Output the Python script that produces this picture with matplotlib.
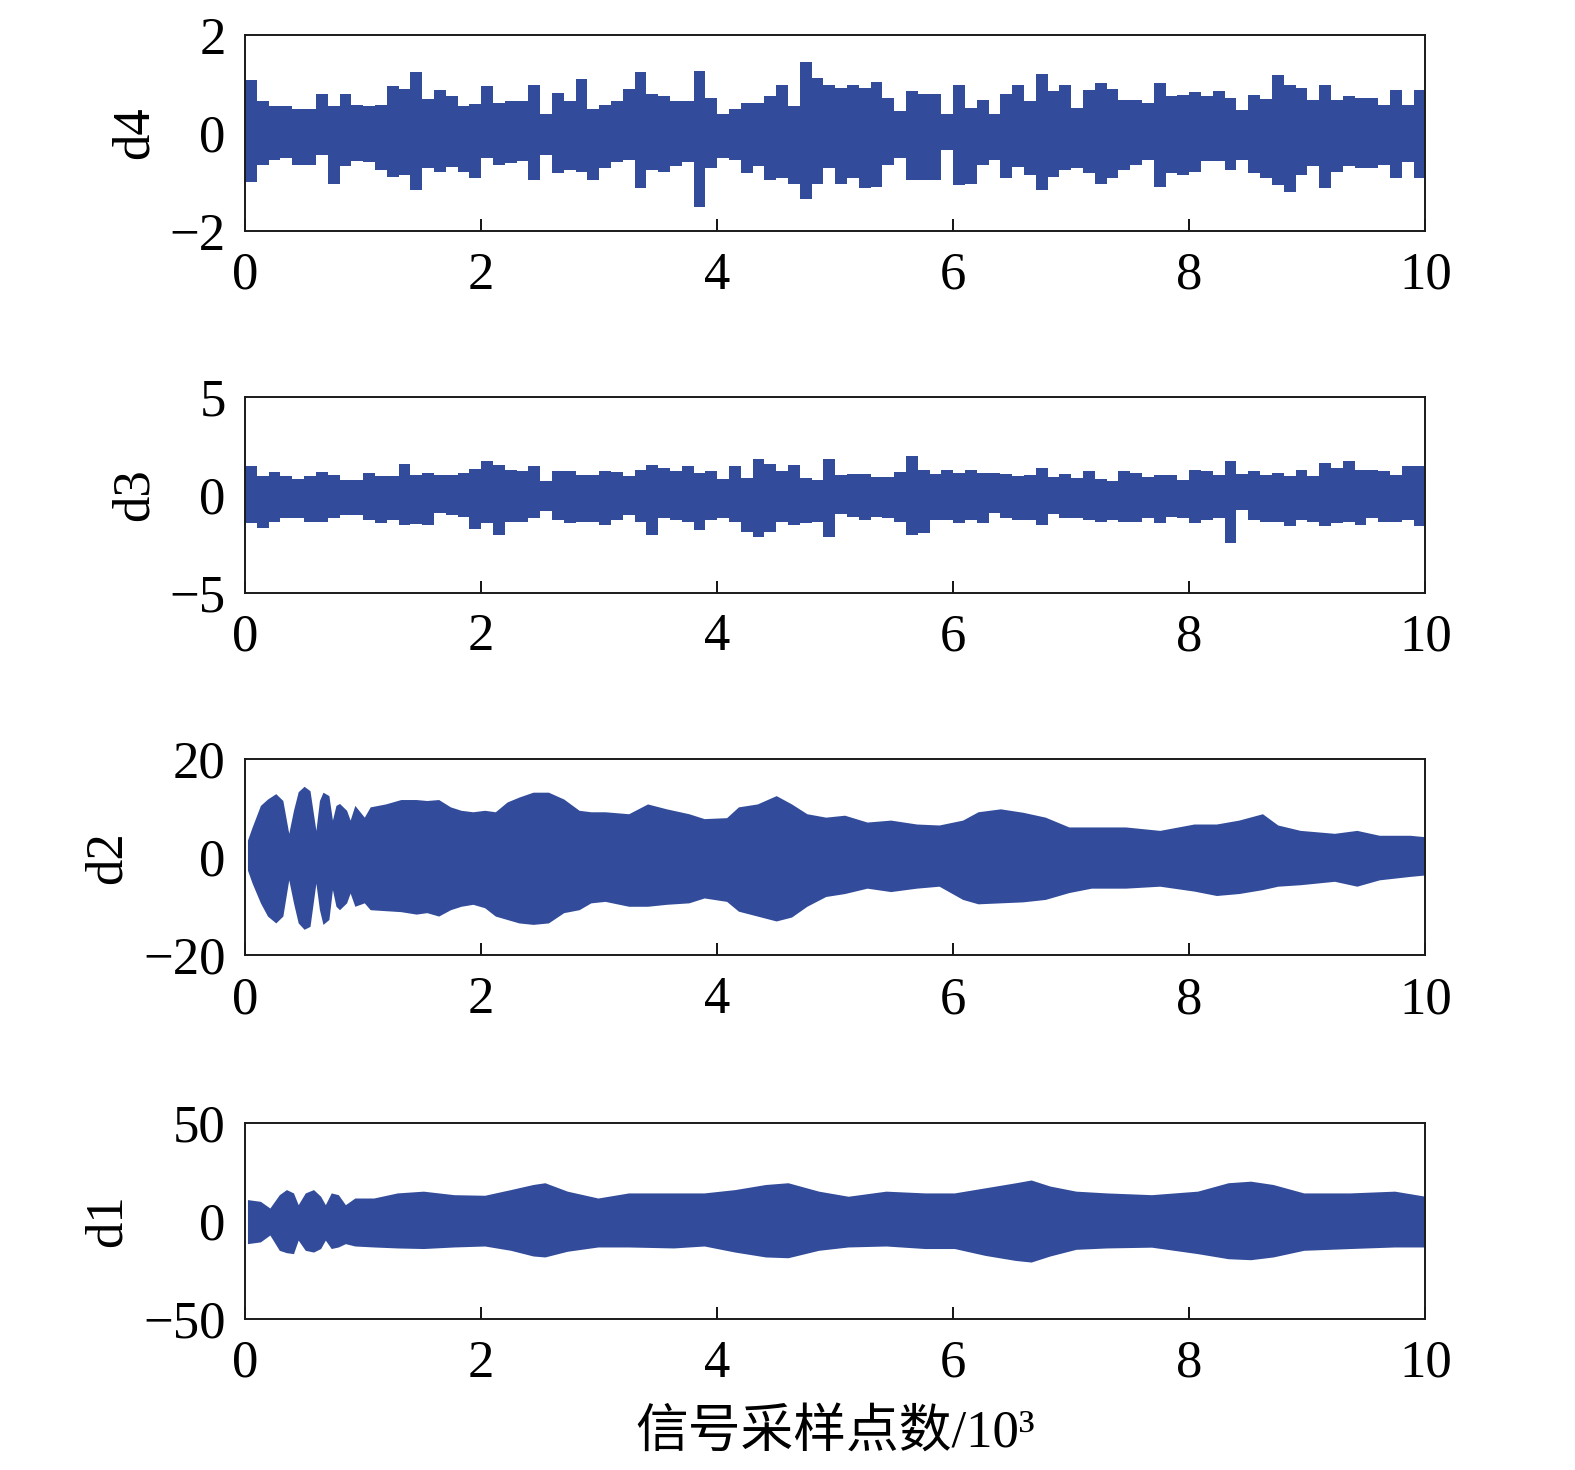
import numpy as np
import matplotlib
matplotlib.use("Agg")
import matplotlib.pyplot as plt

plt.rcParams['font.family'] = ['Liberation Serif', 'Noto Sans CJK SC']
plt.rcParams['axes.unicode_minus'] = True

# envelope of d4 / d3, one value per 0.1 (x10^3 samples) bin
d4_upper = [1.08, 0.66, 0.55, 0.55, 0.50, 0.50, 0.79, 0.55, 0.79, 0.58,
            0.55, 0.58, 0.96, 0.90, 1.25, 0.70, 0.87, 0.75, 0.55, 0.60,
            0.96, 0.62, 0.65, 0.66, 0.99, 0.38, 0.82, 0.65, 1.10, 0.50,
            0.58, 0.65, 0.90, 1.25, 0.79, 0.75, 0.65, 0.66, 1.27, 0.72,
            0.38, 0.50, 0.62, 0.62, 0.75, 0.99, 0.55, 1.46, 1.12, 0.99,
            0.92, 0.99, 0.92, 1.05, 0.72, 0.45, 0.86, 0.79, 0.79, 0.40,
            0.99, 0.51, 0.68, 0.40, 0.79, 0.98, 0.65, 1.20, 0.86, 0.99,
            0.51, 0.87, 1.02, 0.91, 0.68, 0.68, 0.62, 1.03, 0.75, 0.77,
            0.84, 0.75, 0.86, 0.72, 0.48, 0.77, 0.70, 1.18, 0.99, 0.92,
            0.68, 0.99, 0.68, 0.75, 0.72, 0.72, 0.58, 0.87, 0.58, 0.87]
d4_lower = [-0.99, -0.65, -0.55, -0.50, -0.65, -0.65, -0.45, -1.03, -0.68, -0.58,
            -0.60, -0.75, -0.89, -0.86, -1.16, -0.72, -0.79, -0.70, -0.79, -0.92,
            -0.50, -0.65, -0.62, -0.58, -0.96, -0.45, -0.82, -0.75, -0.80, -0.96,
            -0.72, -0.60, -0.55, -1.13, -0.75, -0.79, -0.68, -0.60, -1.51, -0.72,
            -0.50, -0.55, -0.82, -0.68, -0.96, -0.92, -1.03, -1.34, -1.03, -0.72,
            -1.03, -0.91, -1.13, -1.10, -0.65, -0.50, -0.96, -0.96, -0.96, -0.35,
            -1.06, -1.03, -0.65, -0.55, -0.91, -0.70, -0.86, -1.16, -0.89, -0.75,
            -0.72, -0.82, -1.03, -0.92, -0.75, -0.65, -0.55, -1.10, -0.82, -0.86,
            -0.79, -0.58, -0.58, -0.75, -0.55, -0.82, -0.92, -1.06, -1.20, -0.86,
            -0.68, -1.13, -0.79, -0.68, -0.72, -0.72, -0.65, -0.92, -0.60, -0.92]

d3_upper = [1.45, 0.95, 1.16, 0.94, 0.82, 0.94, 1.16, 1.03, 0.77, 0.77,
            1.11, 0.94, 0.94, 1.57, 1.03, 1.11, 1.03, 1.03, 1.11, 1.33,
            1.71, 1.54, 1.28, 1.20, 1.45, 0.68, 1.20, 1.20, 1.03, 1.03,
            1.20, 1.16, 0.94, 1.28, 1.54, 1.37, 1.20, 1.45, 1.11, 1.20,
            0.80, 1.45, 0.85, 1.80, 1.57, 1.20, 1.50, 0.85, 0.77, 1.80,
            1.03, 1.06, 1.06, 0.89, 0.89, 1.16, 1.97, 1.28, 1.06, 1.28,
            1.11, 1.28, 1.11, 1.11, 1.06, 0.94, 1.03, 1.37, 0.90, 1.06,
            0.85, 1.20, 0.82, 0.68, 1.20, 1.11, 0.89, 1.03, 1.03, 0.77,
            1.28, 1.20, 1.03, 1.74, 1.06, 1.20, 1.03, 1.11, 0.94, 1.28,
            0.94, 1.62, 1.37, 1.74, 1.28, 1.28, 1.20, 1.03, 1.45, 1.45]
d3_lower = [-1.45, -1.68, -1.37, -1.20, -1.20, -1.37, -1.37, -1.20, -1.03, -1.03,
            -1.28, -1.45, -1.28, -1.54, -1.50, -1.54, -0.94, -1.03, -1.12, -1.74,
            -1.45, -2.05, -1.37, -1.37, -1.20, -0.85, -1.28, -1.45, -1.37, -1.37,
            -1.54, -1.28, -1.03, -1.37, -2.05, -1.20, -1.28, -1.37, -1.80, -1.28,
            -1.20, -1.37, -1.88, -2.14, -1.88, -1.37, -1.54, -1.45, -1.37, -2.14,
            -1.00, -1.12, -1.28, -1.12, -1.20, -1.37, -2.05, -1.97, -1.28, -1.28,
            -1.45, -1.28, -1.45, -0.94, -1.20, -1.28, -1.28, -1.54, -1.00, -1.20,
            -1.20, -1.28, -1.37, -1.28, -1.37, -1.37, -1.20, -1.45, -1.12, -1.20,
            -1.45, -1.28, -1.20, -2.48, -0.80, -1.28, -1.37, -1.37, -1.62, -1.28,
            -1.37, -1.62, -1.45, -1.37, -1.54, -1.20, -1.37, -1.37, -1.30, -1.62]

# envelope of d2 / d1 at read-off positions
d2_x = [0.02, 0.06, 0.13, 0.19, 0.26, 0.32, 0.37, 0.41, 0.45, 0.50, 0.55, 0.60,
        0.63, 0.66, 0.71, 0.74, 0.77, 0.80, 0.86, 0.89, 0.93, 1.01, 1.06, 1.19,
        1.32, 1.45, 1.54, 1.64, 1.74, 1.83, 1.93, 2.03, 2.12, 2.22, 2.32, 2.44,
        2.57, 2.70, 2.83, 2.93, 3.05, 3.25, 3.41, 3.57, 3.76, 3.89, 4.08, 4.18,
        4.34, 4.50, 4.63, 4.76, 4.92, 5.08, 5.27, 5.47, 5.69, 5.88, 6.08, 6.21,
        6.40, 6.59, 6.78, 6.98, 7.17, 7.46, 7.75, 8.04, 8.23, 8.42, 8.62, 8.75,
        8.94, 9.23, 9.42, 9.61, 9.87, 10.0]
d2_upper = [3.5, 6.2, 10.6, 11.9, 13.0, 11.6, 4.9, 9.6, 13.4, 14.5, 13.6, 5.5,
            11.6, 13.3, 12.6, 7.6, 10.6, 11.0, 9.6, 7.6, 10.6, 8.2, 10.3, 10.9,
            11.8, 11.8, 11.6, 11.8, 10.3, 9.6, 9.3, 9.6, 9.3, 11.3, 12.3, 13.3,
            13.3, 11.9, 9.6, 9.3, 9.3, 8.9, 10.9, 9.9, 8.9, 7.9, 8.1, 10.3,
            10.9, 12.6, 10.9, 8.9, 8.2, 8.6, 7.2, 7.6, 6.8, 6.6, 7.6, 9.3,
            9.9, 9.2, 8.2, 6.2, 6.2, 6.2, 5.5, 6.8, 6.8, 7.6, 8.9, 6.6,
            5.5, 4.9, 5.5, 4.5, 4.5, 4.2]
d2_lower = [-2.6, -5.3, -9.3, -12.0, -13.4, -12.0, -4.6, -9.3, -13.4, -14.7, -14.1, -5.3,
            -10.7, -13.7, -12.7, -6.6, -10.0, -10.7, -9.3, -7.3, -10.0, -9.3, -10.7, -10.9,
            -11.1, -11.6, -11.3, -12.0, -10.7, -10.0, -9.6, -10.3, -12.0, -12.7, -13.4, -13.7,
            -13.4, -11.3, -10.7, -9.3, -9.0, -10.0, -10.0, -9.6, -9.3, -8.3, -9.0, -11.0,
            -12.0, -13.0, -12.2, -10.0, -8.0, -7.4, -6.3, -7.0, -6.3, -5.9, -8.6, -9.5,
            -9.3, -9.1, -8.6, -7.2, -6.3, -6.3, -5.9, -6.9, -7.8, -7.4, -6.6, -5.9,
            -5.6, -4.9, -5.9, -4.6, -3.9, -3.6]

d1_x = [0.02, 0.13, 0.21, 0.29, 0.35, 0.41, 0.45, 0.51, 0.58, 0.64, 0.68, 0.73,
        0.79, 0.85, 0.93, 1.09, 1.29, 1.51, 1.77, 2.03, 2.25, 2.44, 2.54, 2.73,
        2.99, 3.25, 3.63, 3.89, 4.15, 4.41, 4.60, 4.86, 5.11, 5.43, 5.76, 6.01,
        6.27, 6.53, 6.66, 6.82, 7.04, 7.30, 7.68, 8.07, 8.33, 8.52, 8.71, 8.97,
        9.36, 9.74, 10.0]
d1_upper = [10.9, 10.0, 6.6, 13.4, 16.0, 14.3, 8.3, 14.3, 16.0, 12.6, 8.3, 14.3,
            13.4, 8.3, 11.7, 11.7, 14.3, 15.2, 13.4, 13.1, 16.0, 18.6, 19.5, 15.2,
            11.7, 14.3, 14.3, 14.3, 16.0, 18.6, 19.5, 15.2, 12.6, 15.2, 14.3, 14.3,
            16.9, 19.5, 20.9, 17.8, 15.2, 14.3, 13.4, 15.2, 19.5, 20.3, 18.6, 14.3,
            14.3, 15.2, 12.6]
d1_lower = [-11.6, -10.7, -7.2, -15.0, -16.2, -16.7, -9.8, -15.0, -15.9, -14.1, -9.8, -14.1,
            -13.3, -11.6, -12.8, -13.3, -13.8, -14.1, -13.3, -12.8, -15.0, -17.9, -18.4, -15.5,
            -13.3, -13.3, -13.8, -12.8, -15.9, -18.4, -18.8, -15.0, -13.3, -12.8, -14.1, -14.1,
            -17.6, -20.2, -21.0, -17.9, -14.5, -13.8, -13.4, -16.7, -19.3, -19.8, -18.4, -15.0,
            -14.1, -13.3, -13.3]

labels = ['d4', 'd3', 'd2', 'd1']
ylims = [2, 5, 20, 50]
xticks = [0, 2, 4, 6, 8, 10]
color = '#324C9B'

fig = plt.figure(figsize=(15.75, 14.7), dpi=100)
k = 1575 / 1568
left, width, height = 244 * k / 1575, 1175 * k / 1575, 195 * k / 1470
bottoms = [1 - b * k / 1470 for b in (230, 590, 951, 1313)]
axes = [fig.add_axes([left, b, width, height]) for b in bottoms]

edges = np.linspace(0, 10, len(d4_upper) + 1)
axes[0].stairs(d4_upper, edges, baseline=d4_lower, fill=True, color=color, linewidth=0)
axes[1].stairs(d3_upper, edges, baseline=d3_lower, fill=True, color=color, linewidth=0)
axes[2].fill_between(d2_x, d2_lower, d2_upper, color=color, linewidth=0)
axes[3].fill_between(d1_x, d1_lower, d1_upper, color=color, linewidth=0)

for ax, lab, lim in zip(axes, labels, ylims):
    ax.set_xlim(0, 10)
    ax.set_ylim(-lim, lim)
    ax.set_yticks([-lim, 0, lim])
    ax.set_xticks(xticks)
    ax.tick_params(axis='x', direction='in', length=9, width=1.3, pad=15,
                   labelsize=38, top=False)
    ax.tick_params(axis='y', length=0, pad=14, labelsize=38)
    ax.set_ylabel(lab, fontsize=38, labelpad=8)
    for s in ax.spines.values():
        s.set_linewidth(1.4)
        s.set_color('#1a1a1a')

axes[-1].set_xlabel('信号采样点数/10³', fontsize=38, labelpad=16)

fig.savefig('out.png', dpi=100)
